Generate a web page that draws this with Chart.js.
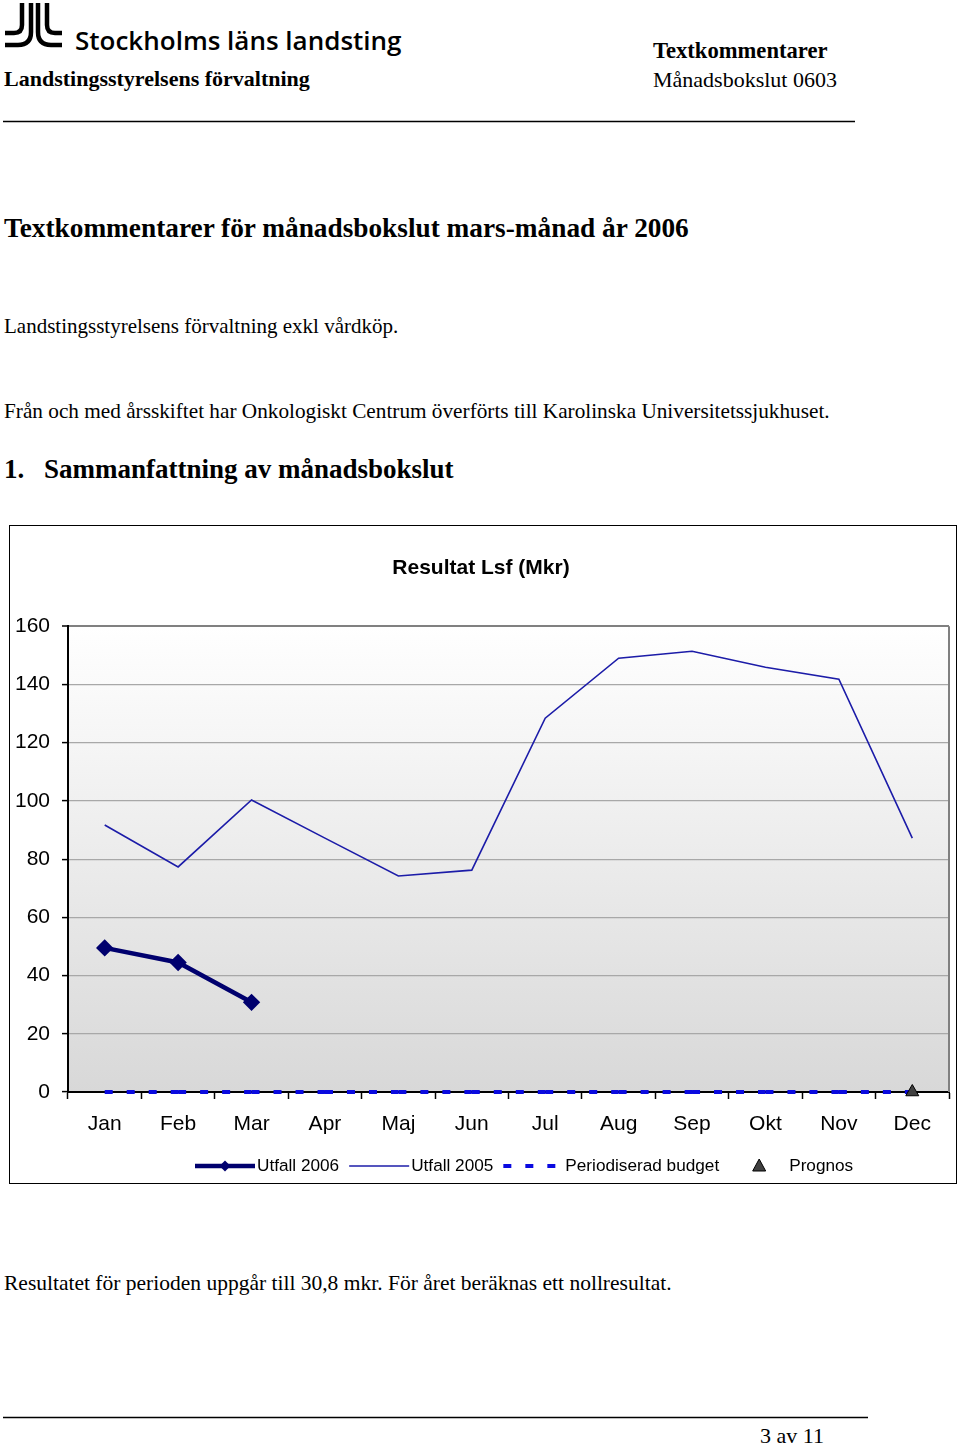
<!DOCTYPE html>
<html>
<head>
<meta charset="utf-8">
<script src="https://cdn.jsdelivr.net/npm/chart.js@4/dist/chart.umd.min.js"></script>
<style>
  body { margin: 0; background: #fff; }
  #page { position: relative; width: 960px; height: 1447px; overflow: hidden; }
  #page svg { position: absolute; left: 0; top: 0; }
  .serif { font-family: 'Liberation Serif', 'Times New Roman', serif; }
  #chartbox { position: absolute; left: 9px; top: 525px; width: 948px; height: 659px;
              border: 1px solid #000; box-sizing: border-box; }
  #chartwrap { position: relative; width: 949px; height: 657px; }
</style>
</head>
<body>
<div id="page">
  <svg width="960" height="1447">
    <g fill="none" stroke="#000" stroke-width="4.5">
      <path d="M22,3 V25 Q22,33 14,33 H5"/>
      <path d="M31,3 V32 Q31,45 18,45 H5"/>
      <path d="M38,3 V32 Q38,45 51,45 H62"/>
      <path d="M47,3 V25 Q47,33 55,33 H62"/>
    </g>
    <text x="75" y="50" font-family="'Open Sans', sans-serif" font-weight="600" font-size="26">Stockholms läns landsting</text>
    <g class="serif">
      <text x="4" y="86" font-weight="bold" font-size="22">Landstingsstyrelsens förvaltning</text>
      <text x="653" y="58" font-weight="bold" font-size="22.6">Textkommentarer</text>
      <text x="653" y="87" font-size="22">Månadsbokslut 0603</text>
      <text x="4" y="237" font-weight="bold" font-size="27.3">Textkommentarer för månadsbokslut mars-månad år 2006</text>
      <text x="4" y="333" font-size="21">Landstingsstyrelsens förvaltning exkl vårdköp.</text>
      <text x="4" y="418" font-size="21.25">Från och med årsskiftet har Onkologiskt Centrum överförts till Karolinska Universitetssjukhuset.</text>
      <text x="4" y="478" font-weight="bold" font-size="27">1.</text>
      <text x="44" y="478" font-weight="bold" font-size="27">Sammanfattning av månadsbokslut</text>
      <text x="4" y="1290" font-size="21.5">Resultatet för perioden uppgår till 30,8 mkr. För året beräknas ett nollresultat.</text>
      <text x="760" y="1443" font-size="22">3 av 11</text>
    </g>
    <line x1="3" y1="121.5" x2="855" y2="121.5" stroke="#000" stroke-width="1.5"/>
    <line x1="3" y1="1417.5" x2="868" y2="1417.5" stroke="#000" stroke-width="1.5"/>
  </svg>
  <div id="chartbox"><div id="chartwrap"><canvas id="resultchart"></canvas></div></div>
</div>

<script>
const months = ['Jan', 'Feb', 'Mar', 'Apr', 'Maj', 'Jun', 'Jul', 'Aug', 'Sep', 'Okt', 'Nov', 'Dec'];
const utfall2006 = [49.5, 44.5, 30.8, null, null, null, null, null, null, null, null, null];
const utfall2005 = [91.7, 77.3, 100.3, 87.2, 74.2, 76.2, 128.4, 149.0, 151.4, 145.9, 141.8, 87.2];
const budget = [0, 0, 0, 0, 0, 0, 0, 0, 0, 0, 0, 0];
const prognos = [null, null, null, null, null, null, null, null, null, null, null, 0];
const yTicks = [0, 20, 40, 60, 80, 100, 120, 140, 160];

Chart.defaults.font.family = "'Liberation Sans', Arial, sans-serif";
Chart.defaults.color = '#000';

// grey-to-white fill behind the plot, plus the grey right edge
const plotBackground = {
    id: 'plotBackground',
    beforeDraw(chart){
        const {ctx, chartArea: a} = chart;
        const g = ctx.createLinearGradient(0, a.top, 0, a.bottom);
        g.addColorStop(0, '#ffffff');
        g.addColorStop(1, '#d8d8d8');
        ctx.save();
        ctx.fillStyle = g;
        ctx.fillRect(a.left, a.top, a.right - a.left, a.bottom - a.top);
        ctx.restore();
    },
    beforeDatasetsDraw(chart){
        const {ctx, chartArea: a} = chart;
        ctx.save();
        ctx.strokeStyle = '#808080';
        ctx.lineWidth = 2;
        ctx.beginPath();
        ctx.moveTo(a.right, a.top);
        ctx.lineTo(a.right, a.bottom);
        ctx.stroke();
        ctx.restore();
    }
};

// legend drawn like the original: line sample then label
const sampleLegend = {
    id: 'sampleLegend',
    afterDraw(chart){
        const ctx = chart.ctx;
        const y = 640;
        let x = 185;
        ctx.save();
        ctx.font = "17.2px 'Liberation Sans', Arial, sans-serif";
        ctx.textBaseline = 'middle';
        ctx.fillStyle = '#000';
        chart.data.datasets.forEach(ds => {
            const w = 60;
            if (ds.showLine !== false) {
                ctx.save();
                ctx.strokeStyle = ds.borderColor;
                ctx.lineWidth = ds.borderWidth;
                ctx.setLineDash(ds.borderDash || []);
                ctx.beginPath();
                ctx.moveTo(x, y);
                ctx.lineTo(x + w, y);
                ctx.stroke();
                ctx.restore();
            }
            const cx = x + w / 2;
            if (ds.pointRadius > 0 && ds.pointStyle === 'rectRot') {
                const r = ds.pointRadius;
                ctx.fillStyle = ds.pointBackgroundColor;
                ctx.beginPath();
                ctx.moveTo(cx, y - r); ctx.lineTo(cx + r, y); ctx.lineTo(cx, y + r); ctx.lineTo(cx - r, y);
                ctx.closePath();
                ctx.fill();
            } else if (ds.pointStyle === 'triangle') {
                ctx.fillStyle = ds.pointBackgroundColor;
                ctx.strokeStyle = ds.pointBorderColor;
                ctx.lineWidth = 1;
                ctx.beginPath();
                ctx.moveTo(cx, y - 7); ctx.lineTo(cx + 6.5, y + 5); ctx.lineTo(cx - 6.5, y + 5);
                ctx.closePath();
                ctx.fill();
                ctx.stroke();
            }
            ctx.fillStyle = '#000';
            const tx = x + w + (ds.pointStyle === 'triangle' ? 0 : 2);
            ctx.fillText(ds.label, tx, y);
            x = tx + ctx.measureText(ds.label).width + 10;
        });
        ctx.restore();
    }
};

new Chart(document.getElementById('resultchart'), {
    type: 'line',
    data: {
        labels: months,
        datasets: [
            {
                label: 'Utfall 2006',
                data: utfall2006,
                borderColor: '#00006e',
                borderWidth: 4.5,
                pointStyle: 'rectRot',
                pointRadius: 5.5,
                pointBackgroundColor: '#00006e',
                pointBorderColor: '#00006e',
                tension: 0
            },
            {
                label: 'Utfall 2005',
                data: utfall2005,
                borderColor: '#1c1ca8',
                borderWidth: 1.6,
                pointRadius: 0,
                tension: 0
            },
            {
                label: 'Periodiserad budget',
                data: budget,
                borderColor: '#0a0ae0',
                borderWidth: 4,
                borderDash: [8, 14],
                pointRadius: 0,
                tension: 0,
                clip: false,
                // restart the dash pattern at every month like the original
                segment: { borderDashOffset: c => (c.p0DataIndex % 2) * 0.0001 }
            },
            {
                label: 'Prognos',
                data: prognos,
                showLine: false,
                clip: false,
                order: -1,
                pointStyle: 'triangle',
                pointRadius: 7.5,
                pointBackgroundColor: '#404040',
                pointBorderColor: '#000',
                pointBorderWidth: 1
            }
        ]
    },
    options: {
        responsive: true,
        maintainAspectRatio: false,
        animation: false,
        layout: { padding: { left: 0, right: 7, top: 0, bottom: 36 } },
        plugins: {
            legend: { display: false },
            tooltip: { enabled: false },
            title: {
                display: true,
                text: 'Resultat Lsf (Mkr)',
                font: { size: 21, weight: 'bold' },
                color: '#000',
                padding: { top: 30, bottom: 45 }
            }
        },
        scales: {
            x: {
                offset: true,
                grid: { display: true, drawOnChartArea: false, offset: true, tickLength: 7, tickColor: '#000', tickWidth: 1.5 },
                border: { color: '#000', width: 2 },
                ticks: { font: { size: 21 }, color: '#000', padding: 13, maxRotation: 0 },
                afterFit(scale){
                    scale.height = 55;
                    scale.paddingLeft = 0;
                    scale.paddingRight = 0;
                }
            },
            y: {
                min: 0,
                max: 160,
                afterBuildTicks(scale){ scale.ticks = yTicks.map(v => ({value: v})); },
                grid: {
                    color: c => c.tick && c.tick.value === 160 ? '#808080' : '#a8a8a8',
                    lineWidth: c => c.tick && c.tick.value === 160 ? 2 : 1.2,
                    tickLength: 6, tickColor: '#000', tickWidth: 1.5
                },
                border: { color: '#000', width: 2 },
                ticks: { font: { size: 21 }, color: '#000', padding: 12 },
                afterFit(scale){ scale.width = 58; }
            }
        }
    },
    plugins: [plotBackground, sampleLegend]
});
</script>
</body>
</html>
